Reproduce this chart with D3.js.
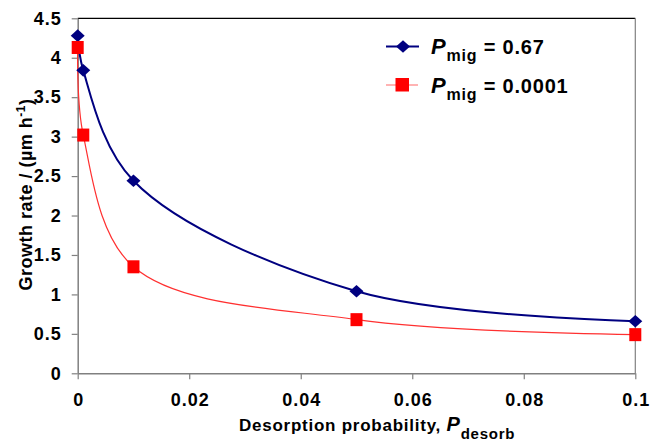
<!DOCTYPE html>
<html><head><meta charset="utf-8">
<script src="https://cdn.jsdelivr.net/npm/d3@7"></script>
<style>body{margin:0;background:#fff}svg{display:block;font-family:"Liberation Sans",Arial,sans-serif}</style>
</head><body><svg id="c" width="661" height="443"></svg>
<script>
const xValues = [0, 0.001, 0.01, 0.05, 0.1];
const seriesHigh = [4.28, 3.84, 2.44, 1.04, 0.66];
const seriesLow = [4.13, 3.02, 1.35, 0.68, 0.49];
const xTicks = [0, 0.02, 0.04, 0.06, 0.08, 0.1];
const xTickLabels = ["0", "0.02", "0.04", "0.06", "0.08", "0.1"];
const yTicks = [0, 0.5, 1, 1.5, 2, 2.5, 3, 3.5, 4, 4.5];
const yTickLabels = ["0", "0.5", "1", "1.5", "2", "2.5", "3", "3.5", "4", "4.5"];

const svg = d3.select("#c");
const L = 77.7, R = 635.3, T = 18.3, B = 373.3;
const x = d3.scaleLinear().domain([0, 0.1]).range([L, R]);
const y = d3.scaleLinear().domain([0, 4.5]).range([B, T]);
const FONT = "'Liberation Sans',Arial,sans-serif";

// frame
svg.append("line").attr("x1", L).attr("x2", R).attr("y1", T).attr("y2", T).attr("stroke", "#000").attr("stroke-width", 1.2);
svg.append("line").attr("x1", R).attr("x2", R).attr("y1", T).attr("y2", B).attr("stroke", "#808080").attr("stroke-width", 1.2);

const yAxis = svg.append("g").attr("transform", `translate(${L},0)`)
  .call(d3.axisLeft(y).tickValues(yTicks).tickFormat((d, i) => yTickLabels[i]).tickSize(6).tickSizeOuter(0).tickPadding(10));
const xAxis = svg.append("g").attr("transform", `translate(0,${B})`)
  .call(d3.axisBottom(x).tickValues(xTicks).tickFormat((d, i) => xTickLabels[i]).tickSize(6).tickSizeOuter(0).tickPadding(14));
[yAxis, xAxis].forEach(a => {
  a.attr("font-size", 18).attr("font-family", FONT);
  a.select(".domain").attr("stroke", "#808080").attr("stroke-width", 1.5);
  a.selectAll(".tick line").attr("stroke", "#808080").attr("stroke-width", 1.2);
  a.selectAll("text").attr("font-size", 18).attr("font-weight", "bold").attr("fill", "#000")
    .attr("letter-spacing", 1);
});
xAxis.selectAll("text").attr("dx", 0.5);

const line = d3.line().x(d => x(d[0])).y(d => y(d[1])).curve(d3.curveCatmullRom.alpha(0.5));
const dHigh = xValues.map((v, i) => [v, seriesHigh[i]]);
const dLow = xValues.map((v, i) => [v, seriesLow[i]]);

svg.append("path").attr("d", line(dHigh)).attr("fill", "none").attr("stroke", "#000080").attr("stroke-width", 2);
svg.append("path").attr("d", line(dLow)).attr("fill", "none").attr("stroke", "#ff3030").attr("stroke-width", 1.2);

const diamond = (w, h) => `M0,${-h}L${w},0L0,${h}L${-w},0Z`;
svg.selectAll(".dh").data(dHigh).join("path").attr("d", diamond(7, 6.3))
  .attr("transform", d => `translate(${x(d[0])},${y(d[1])})`).attr("fill", "#000080");
svg.selectAll(".sl").data(dLow).join("rect")
  .attr("x", d => x(d[0]) - 6).attr("y", d => y(d[1]) - 6.5).attr("width", 12).attr("height", 13).attr("fill", "#ff0000");

// legend
const lg = svg.append("g");
lg.append("line").attr("x1", 386).attr("x2", 419).attr("y1", 46.5).attr("y2", 46.5).attr("stroke", "#000080").attr("stroke-width", 2);
lg.append("path").attr("d", diamond(7, 6.3)).attr("transform", "translate(403,46.5)").attr("fill", "#000080");
lg.append("line").attr("x1", 386).attr("x2", 418).attr("y1", 85).attr("y2", 85).attr("stroke", "#ff8080").attr("stroke-width", 1.2);
lg.append("rect").attr("x", 395.5).attr("y", 78).attr("width", 13.5).attr("height", 13.5).attr("fill", "#ff0000");
const legTexts = ["= 0.67", "= 0.0001"];
legTexts.forEach((t, i) => {
  const tx = lg.append("text").attr("x", 431).attr("y", 54 + i * 38.7).attr("font-size", 20)
    .attr("font-weight", "bold").attr("letter-spacing", 0.8);
  tx.append("tspan").attr("font-style", "italic").attr("font-size", 22).text("P");
  tx.append("tspan").attr("dy", 7).attr("font-size", 16).text("mig");
  tx.append("tspan").attr("dy", -7).text(" " + t);
});

// axis titles
const yt = svg.append("text").attr("transform", "translate(31.5,194.5) rotate(-90)").attr("text-anchor", "middle")
  .attr("font-size", 18).attr("font-weight", "bold").attr("letter-spacing", 0.5);
yt.append("tspan").text("Growth rate / (µm h");
yt.append("tspan").attr("dy", -7).attr("font-size", 12).text("-1");
yt.append("tspan").attr("dy", 7).text(")");

const xt = svg.append("text").attr("x", 239).attr("y", 431).attr("text-anchor", "start")
  .attr("font-size", 17).attr("font-weight", "bold").attr("letter-spacing", 0.75);
xt.append("tspan").text("Desorption probability, ");
xt.append("tspan").attr("font-style", "italic").attr("font-size", 20).text("P");
xt.append("tspan").attr("dy", 8).attr("font-size", 15).text("desorb");
</script></body></html>
